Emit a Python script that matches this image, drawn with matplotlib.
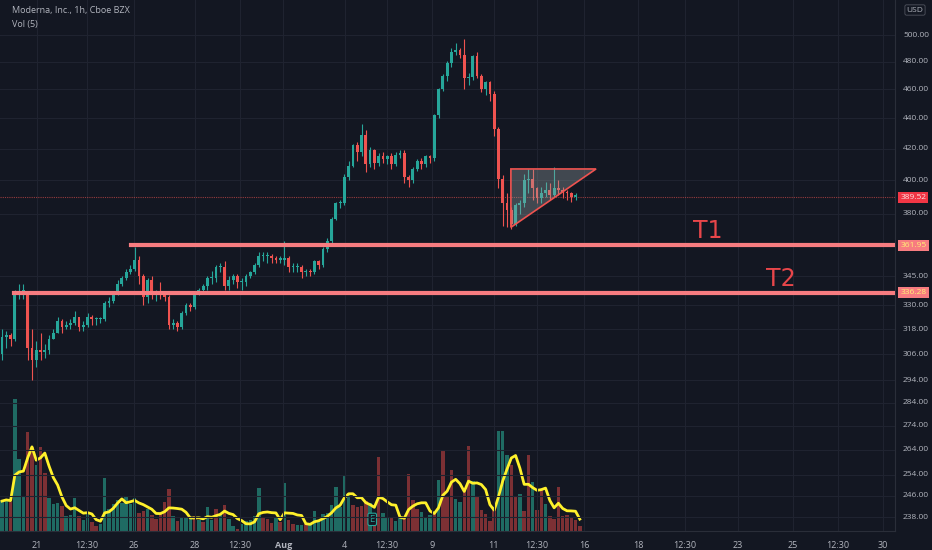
import numpy as np
import pandas as pd
import matplotlib.pyplot as plt
from matplotlib.patches import Polygon
import matplotlib.transforms as mtrans

# hourly candles (price)
closes = [314,315,313,336,337,337,309,303,308,307,
          308,313,316,322,319,320,321,324,319,320,
          324,323,323,323,331,332,336,341,344,347,
          349,354,345,334,343,336,337,335,334,320,
          321,319,326,330,329,336,338,340,344,344,
          350,350,340,343,345,342,342,345,347,351,
          356,356,356,355,354,354,355,350,350,350,
          347,348,347,353,351,360,364,377,386,386,
          402,409,422,418,429,410,419,411,415,413,
          415,410,416,417,402,400,407,412,410,415,
          414,442,460,470,479,487,489,485,468,469,
          484,470,460,465,457,433,401,386,382,374,
          385,386,400,401,395,389,392,394,391,395,
          394,393,392,390,390]
first_open = 306
highs = [318,317,316,338,341,341,337,318,312,316,
         311,315,318,324,323,322,323,327,323,322,
         326,325,324,324,332,334,337,343,345,349,
         351,361,356,346,344,345,338,342,336,335,
         323,322,327,331,331,337,339,341,345,348,
         351,352,353,345,346,346,344,346,348,352,
         358,358,358,357,356,356,364,356,352,352,
         351,349,349,354,354,361,366,378,387,388,
         404,412,423,424,436,432,421,420,417,418,
         416,417,418,419,419,403,408,413,414,416,
         416,443,461,471,481,490,494,490,497,472,
         485,487,471,466,466,459,434,403,392,384,
         386,388,404,407,407,396,396,399,398,408,
         400,396,394,393,392]
lows = [303,309,310,312,333,333,303,294,300,303,
        304,306,313,316,316,318,318,320,317,317,
        319,320,320,321,322,329,331,335,340,343,
        346,348,341,330,331,333,332,333,332,318,
        318,317,318,325,327,328,335,337,338,341,
        342,347,338,338,341,339,338,340,344,346,
        350,353,352,352,352,352,351,347,347,347,
        344,345,345,346,349,350,358,362,376,383,
        385,400,408,412,415,405,408,407,409,411,
        410,407,409,414,398,396,398,406,407,408,
        411,412,440,459,466,476,485,483,460,463,
        467,468,458,456,452,428,395,373,372,371,
        373,380,384,392,388,386,386,390,388,390,
        391,389,388,387,388]

volume = [90,97,87,397,217,102,297,252,197,252,
          174,100,80,85,74,44,47,99,44,34,
          52,27,14,20,160,67,80,92,84,102,
          82,100,54,59,67,47,37,52,87,125,
          44,30,42,40,40,44,32,27,72,32,
          67,52,77,37,14,7,22,30,34,44,
          129,42,37,24,40,27,145,32,20,17,
          19,22,22,59,32,52,54,77,132,72,
          165,114,77,72,74,89,84,37,224,54,
          40,40,30,42,40,170,92,65,57,40,
          47,54,152,244,102,182,97,87,127,257,
          150,102,62,52,30,67,302,302,230,197,
          104,112,59,230,147,64,122,82,44,37,
          132,44,47,42,32,14]
vol_dir = ("ggrgggrrgr" "rgggrgggrg" "grrggggggg" "ggrrgrrrrr" "grgggrgrgg"
           "rgrggrgggg" "grrrgrgrrg" "grgggggggg" "ggrrrrgrrg" "grggrrrrgg"
           "grgrrrggrr" "grrrrrgggr" "rgrrgrrgrr" "rrrrrr")

price_ticks = [238,246,254,264,274,284,294,306,318,330,345,380,400,420,440,460,480,500]
time_pos = [8.2,19.9,30.8,45.1,55.6,65.7,80.1,90.0,100.5,114.9,125.0,136.0,148.6,159.6,172.0,184.8,195.3,205.8]
time_labels = ["21","12:30","26","28","12:30","Aug","4","12:30","9","11","12:30","16",
               "18","12:30","23","25","12:30","30"]
t1, t2, last = 361.95, 336.28, 389.52

BG = "#131722"
GRID = "#1f2330"
TXT = "#b2b5be"
UP, DN = "#26a69a", "#ef5350"
LINE = "#f77c80"

fig = plt.figure(figsize=(9.32, 5.5), dpi=100, facecolor=BG)
step = 4.28
x0px = 2
ax = fig.add_axes([0, 19/550, 895/932, 531/550])
ax.set_facecolor(BG)
ax.set_yscale("log")
ax.set_ylim(233, 528)
ax.set_xlim(-x0px/step, (895 - x0px)/step)

# volume pane
axv = ax.twinx()
axv.set_ylim(0, 1597)
axv.axis("off")
vx = np.arange(len(volume))
vcol = ["#1f6b63" if c == "g" else "#7c3034" for c in vol_dir]
axv.bar(vx, volume, width=0.8, color=vcol, zorder=1)
ma = pd.Series(volume).rolling(5, min_periods=1).mean()
axv.plot(vx, ma, color="#fff12b", lw=2, zorder=2)
axv.text(86.5, 35, "E", color=UP, fontsize=6, ha="center", va="center",
         bbox=dict(boxstyle="round,pad=0.2", fc=BG, ec=UP, lw=0.8))
ax.set_zorder(axv.get_zorder() + 1)
ax.patch.set_visible(False)

# grid
for p in price_ticks:
    ax.axhline(p, color=GRID, lw=0.8, zorder=0)
for t in time_pos:
    ax.axvline(t, color=GRID, lw=0.8, zorder=0)

# candles
opens = [first_open] + closes[:-1]
for i, (o, h, l, c) in enumerate(zip(opens, highs, lows, closes)):
    col = UP if c >= o else DN
    ax.vlines(i, l, h, color=col, lw=0.8, zorder=3)
    lo, hi = min(o, c), max(o, c)
    if hi / lo < 1.002:
        hi = lo * 1.002
    ax.bar(i, hi - lo, bottom=lo, width=0.65, color=col, zorder=4)

# triangle
tri = Polygon([[118.9, 407], [138.8, 407], [118.9, 372]], closed=True,
              fc=(0.6, 0.65, 0.65, 0.35), ec=DN, lw=1.2, zorder=5)
ax.add_patch(tri)

# horizontal levels
ax.plot([30.2, 250], [t1, t1], color=LINE, lw=3, zorder=6)
ax.plot([2.8, 250], [t2, t2], color=LINE, lw=3, zorder=6)
ax.axhline(last, color=DN, lw=0.8, ls=(0, (1, 1)), alpha=0.6, zorder=2)
ax.text(165, t1 + 1, "T1", color="#e8464a", fontsize=17, ha="center", va="bottom", zorder=7)
ax.text(182, t2 + 1, "T2", color="#e8464a", fontsize=17, ha="center", va="bottom", zorder=7)

ax.set_xticks([])
ax.set_yticks([])
ax.minorticks_off()
for s in ax.spines.values():
    s.set_visible(False)
ax.spines["right"].set_visible(True)
ax.spines["right"].set_color("#2a2e39")
ax.spines["bottom"].set_visible(True)
ax.spines["bottom"].set_color("#2a2e39")

tr = mtrans.blended_transform_factory(ax.transAxes, ax.transData)
for p in price_ticks:
    ax.text(1.009, p, f"{p:.2f}", transform=tr, color=TXT, fontsize=6, va="center",
            ha="left", clip_on=False, family="Open Sans")
for val, fc, tc in [(last, "#f23645", "#ffe0e0"), (t1, LINE, "#fff176"), (t2, LINE, "#fff176")]:
    ax.text(1.006, val, f"{val:.2f}", transform=tr, color=tc, fontsize=6, va="center",
            ha="left", clip_on=False, family="Open Sans",
            bbox=dict(boxstyle="square,pad=0.25", fc=fc, ec="none"), zorder=8)
trx = mtrans.blended_transform_factory(ax.transData, ax.transAxes)
for t, lab in zip(time_pos, time_labels):
    ax.text(t, -0.018, lab, transform=trx, color=TXT, fontsize=6.5, ha="center",
            va="top", clip_on=False, family="Open Sans",
            fontweight="bold" if lab == "Aug" else "normal")

fig.text(12/932, 1 - 11/550, "Moderna, Inc., 1h, Cboe BZX", color=TXT, fontsize=6.5,
         va="center", family="Open Sans")
fig.text(12/932, 1 - 24/550, "Vol (5)", color=TXT, fontsize=6.5, va="center", family="Open Sans")
fig.text(915/932, 1 - 10/550, "USD", color=TXT, fontsize=6, ha="center", va="center",
         family="Open Sans", bbox=dict(boxstyle="round,pad=0.2", fc=BG, ec="#50535e", lw=0.6))

fig.savefig("out.png", dpi=100, facecolor=BG)
